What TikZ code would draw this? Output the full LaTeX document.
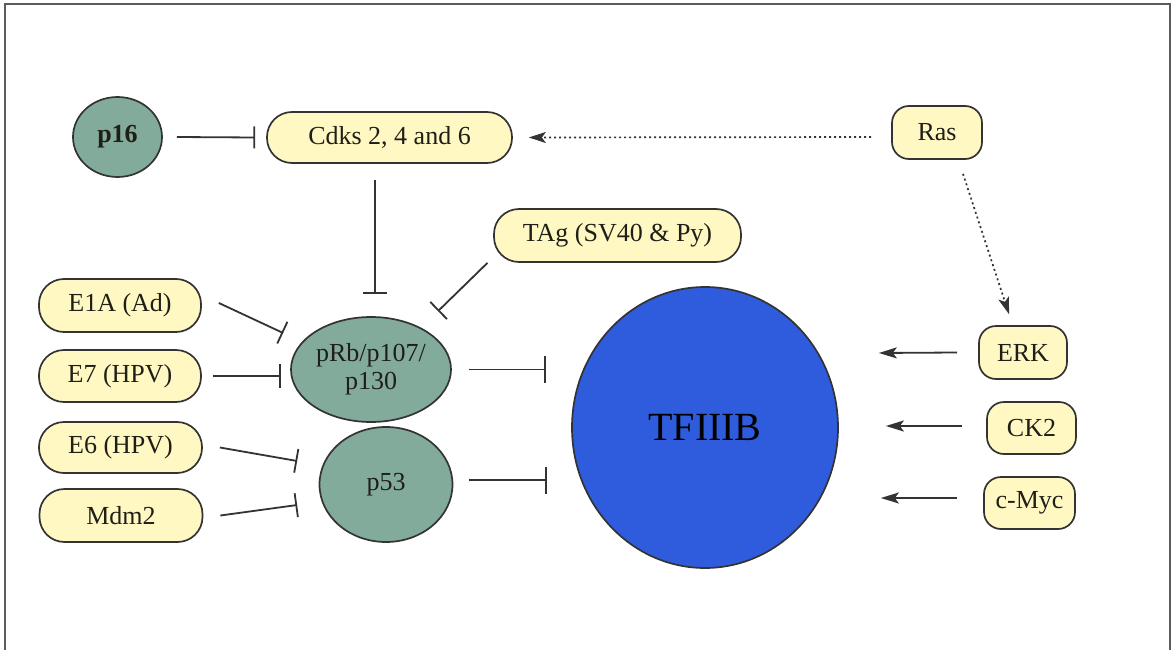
\documentclass[tikz,border=0pt]{standalone}
\usepackage{fontspec}
\setmainfont{Liberation Serif}
\usetikzlibrary{arrows.meta,shapes.geometric}
\definecolor{boxfill}{HTML}{FFF8C2}
\definecolor{edge}{HTML}{333333}
\definecolor{greenfill}{HTML}{82AB9B}
\definecolor{bluefill}{HTML}{2F5CDD}
\definecolor{txt}{HTML}{1F1F18}
\tikzset{
  pill/.style={draw=edge, line width=1.7pt, fill=boxfill, rounded corners=25pt,
    inner sep=0pt, text=txt, font=\fontsize{26}{30}\selectfont},
  smallbox/.style={draw=edge, line width=1.7pt, fill=boxfill, rounded corners=17pt,
    inner sep=0pt, text=txt, font=\fontsize{26}{30}\selectfont},
  prot/.style={ellipse, draw=edge, line width=1.7pt, fill=greenfill, inner sep=0pt,
    text=txt, font=\fontsize{26}{28}\selectfont, align=center},
  inh/.style={draw=edge, line width=1.8pt, -{Bar[width=24pt,line width=1.8pt]}},
  act/.style={draw=edge, line width=1.8pt, -{Stealth[length=18pt,width=11pt,inset=4pt]}},
  dotact/.style={draw=edge, line width=1.7pt, dash pattern=on 2pt off 3pt,
    -{Stealth[length=17pt,width=11pt,inset=4pt]}},
}
\begin{document}
\begin{tikzpicture}[x=1pt,y=-1pt]
\useasboundingbox (0,0) rectangle (1175,650);
\fill[white] (0,0) rectangle (1175,650);
\begin{scope}
\clip (0,0) rectangle (1175,650);
\draw[edge!80, line width=1.6pt] (5,4) rectangle (1170,670);
\end{scope}

% nodes
\node[prot, minimum width=89pt, minimum height=80pt, font=\fontsize{26}{28}\selectfont\bfseries] (p16) at (117.5,137) {p16};
\node[pill, minimum width=245pt, minimum height=51pt] (cdks) at (389.5,137.5) {Cdks 2, 4 and 6};
\node[smallbox, minimum width=90pt, minimum height=53pt] (ras) at (937,132.5) {Ras};
\node[pill, minimum width=247pt, minimum height=53pt] (tag) at (617.5,235.5) {TAg (SV40 \& Py)};
\node[pill, minimum width=162pt, minimum height=53pt] (e1a) at (120,305.5) {E1A (Ad)};
\node[pill, minimum width=162pt, minimum height=52pt] (e7) at (120,376) {E7 (HPV)};
\node[pill, minimum width=163pt, minimum height=51pt] (e6) at (120.5,447.5) {E6 (HPV)};
\node[pill, minimum width=163pt, minimum height=53pt] (mdm2) at (121,515.5) {Mdm2};
\node[prot, minimum width=160pt, minimum height=105pt] (prb) at (371,369.5) {pRb/p107/\\p130};
\node[prot, minimum width=133pt, minimum height=115pt] (p53) at (386,484.5) {p53};
\node[ellipse, draw=edge, line width=1.7pt, fill=bluefill, inner sep=0pt,
  minimum width=266pt, minimum height=281pt, font=\fontsize{40}{44}\selectfont, text=black] (tf) at (705,427.5) {TFIIIB};
\node[smallbox, minimum width=88pt, minimum height=53pt] (erk) at (1023,352.5) {ERK};
\node[smallbox, minimum width=89pt, minimum height=52pt] (ck2) at (1031.5,428) {CK2};
\node[smallbox, minimum width=91pt, minimum height=52pt] (cmyc) at (1029.5,503) {c-Myc};

% inhibition connectors
\draw[inh, -{Bar[width=22pt,line width=1.8pt]}] ([shift={(14,0)}]p16.east) -- ([shift={(-11,0)}]cdks.west);
\draw[inh] ([shift={(-14.5,16)}]cdks.south) -- ([shift={(4,-22)}]prb.north);
\draw[inh] ([shift={(-130,0)}]tag.south) -- ([shift={(67,-5)}]prb.north);
\draw[inh] ([shift={(17,-2.5)}]e1a.east) -- ([shift={(-7,-36.5)}]prb.west);
\draw[inh] ([shift={(11,0)}]e7.east) -- ([shift={(-9,6.5)}]prb.west);
\draw[inh] ([shift={(17,0)}]e6.east) -- ([shift={(-21.5,-23.5)}]p53.west);
\draw[inh] ([shift={(17,0)}]mdm2.east) -- ([shift={(-21.5,20.5)}]p53.west);
\draw[inh, -{Bar[width=27pt,line width=1.8pt]}] ([shift={(17,0)}]prb.east) -- ([shift={(-25,-58)}]tf.west);
\draw[inh, -{Bar[width=27pt,line width=1.8pt]}] ([shift={(15.5,-4.5)}]p53.east) -- ([shift={(-24,52.5)}]tf.west);

% activation connectors
\draw[dotact] ([shift={(-20,4.5)}]ras.west) -- ([shift={(16,0)}]cdks.east);
\draw[dotact] ([shift={(26,14)}]ras.south) -- ([shift={(-14,-11)}]erk.north);
\draw[act] ([shift={(-21,0)}]erk.west) -- ([shift={(40,-74.5)}]tf.east);
\draw[act] ([shift={(-24,-2)}]ck2.west) -- ([shift={(47,-1.5)}]tf.east);
\draw[act] ([shift={(-26,-5)}]cmyc.west) -- ([shift={(42,70.5)}]tf.east);
\end{tikzpicture}
\end{document}
